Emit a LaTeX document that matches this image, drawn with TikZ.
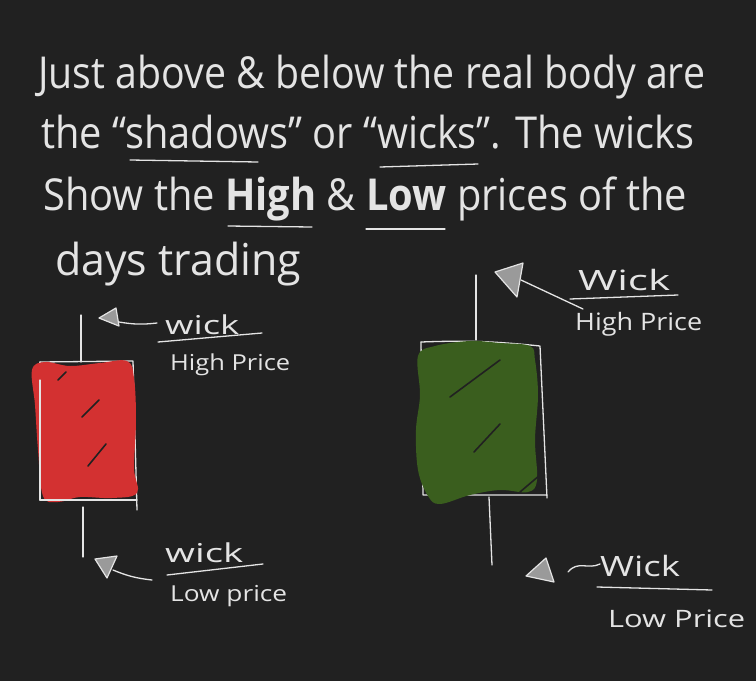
\documentclass[tikz,border=0pt]{standalone}
\usepackage{fontspec}
\setmainfont{Open Sans}
\definecolor{bg}{HTML}{212121}
\definecolor{chalk}{HTML}{E4E4E4}
\definecolor{redbody}{HTML}{D33131}
\definecolor{greenbody}{HTML}{3A5E1E}
\definecolor{tri}{HTML}{9A9A9A}
\newcommand\fitw[3]{\resizebox{#1}{\height}{\fontsize{#2}{#2}\selectfont #3}}
\begin{document}
\begin{tikzpicture}[x=1pt,y=-1pt,
  chalk/.style={draw=chalk, line width=1.3pt, line cap=round, line join=round},
  txt/.style={text=chalk, anchor=base west, inner sep=0pt},
  arrowtri/.style={draw=chalk, fill=tri, line width=1.2pt, line join=round},
  gap/.style={draw=bg, line width=1.6pt, line cap=round}]
\fill[bg] (0,0) rectangle (756,681);
\useasboundingbox (0,0) rectangle (756,681);

% ---- heading text ----
\node[txt] (l1) at (38,88) {\fitw{667pt}{44}{Just above \& below the real body are}};
\node[txt] (l2) at (41,148) {\fitw{653pt}{44}{the “shadows” or “wicks”. The wicks}};
\node[txt] (l3) at (43,210) {\fitw{644pt}{44}{Show the \textbf{High} \& \textbf{Low} prices of the}};
\node[txt] (l4) at (55,275) {\fitw{246pt}{44}{days trading}};
\draw[chalk] (130,160) -- (258,162);
\draw[chalk] (380,167) -- (478,164);
\draw[chalk] (228,226) -- (312,227);
\draw[chalk] (366,229) -- (445,229);

% ---- red candle ----
\draw[chalk] (40,362) -- (133,361) -- (137,510);
\draw[chalk] (40,362) -- (40,500) -- (137,500);
\fill[redbody] plot[smooth cycle, tension=0.6] coordinates {
  (32,370) (45,362) (70,366) (100,363) (127,361) (134,378) (136,420)
  (134,468) (137,493) (112,498) (80,497) (58,502) (43,496) (38,450) (35,405)};
\draw[gap] (82,417) -- (99,400);
\draw[gap] (88,466) -- (106,444);
\draw[gap] (58,380) -- (66,372);
\draw[chalk] (40,380) -- (40,500) -- (134,500);
\node[coordinate] (rtop) at (81,362) {};
\node[coordinate] (rbot) at (83,507) {};
\draw[chalk] (81,315) -- (rtop);
\draw[chalk] (rbot) -- (83,557);

% left labels
\node[txt] (lw1) at (165,334) {\fitw{74pt}{26}{wick}};
\draw[chalk] (158,342) -- (262,333);
\node[txt] (lh1) at (170,370) {\fitw{120pt}{22}{High Price}};
\node[txt] (lw2) at (165,562) {\fitw{78pt}{26}{wick}};
\draw[chalk] (167,575) -- (263,564);
\node[txt] (ll2) at (170,601) {\fitw{117pt}{22}{Low price}};

% left arrow triangles
\draw[arrowtri] (99,318) -- (116,308) -- (119,326) -- cycle;
\coordinate (ta1) at (119,322);
\coordinate (ca1) at (157,323);
\draw[chalk] (ta1) to[bend right=8] (ca1);
\draw[arrowtri] (95,559) -- (117,556) -- (107,578) -- cycle;
\coordinate (ta2) at (113,570);
\coordinate (ca2) at (152,580);
\draw[chalk] (ta2) to[bend right=8] (ca2);

% ---- green candle ----
\draw[chalk] (421,342) to[bend left=4] (540,346) -- (547,498);
\draw[chalk] (421,342) -- (423,495) -- (547,495);
\fill[greenbody] plot[smooth cycle, tension=0.6] coordinates {
  (418,356) (435,346) (470,341) (500,343) (530,346) (535,360) (538,395)
  (535,440) (537,480) (528,492) (500,490) (470,495) (440,504) (428,496)
  (418,470) (416,430) (420,395)};
\draw[gap] (450,397) -- (500,360);
\draw[gap] (474,452) -- (500,424);
\draw[gap] (520,492) -- (540,475);
\node[coordinate] (gtop) at (476,340) {};
\node[coordinate] (gbot) at (489,497) {};
\draw[chalk] (476,275) -- (gtop);
\draw[chalk] (gbot) -- (492,565);

% right labels
\node[txt] (rw1) at (578,290) {\fitw{92pt}{28}{Wick}};
\draw[chalk] (570,299) -- (678,295);
\node[txt] (rh1) at (575,330) {\fitw{127pt}{24}{High Price}};
\node[txt] (rw2) at (600,576) {\fitw{80pt}{28}{Wick}};
\draw[chalk] (597,587) -- (712,590);
\node[txt] (rl2) at (608,627) {\fitw{137pt}{24}{Low Price}};

% right arrow triangles
\draw[arrowtri] (495,272) -- (523,263) -- (517,297) -- cycle;
\coordinate (tb1) at (521,280);
\coordinate (cb1) at (583,309);
\draw[chalk] (tb1) -- (cb1);
\draw[arrowtri] (526,576) -- (546,558) -- (554,582) -- cycle;
\coordinate (tb2) at (568,572);
\coordinate (cb2) at (600,564);
\draw[chalk] (tb2) .. controls (578,560) and (588,570) .. (cb2);
\end{tikzpicture}
\end{document}
